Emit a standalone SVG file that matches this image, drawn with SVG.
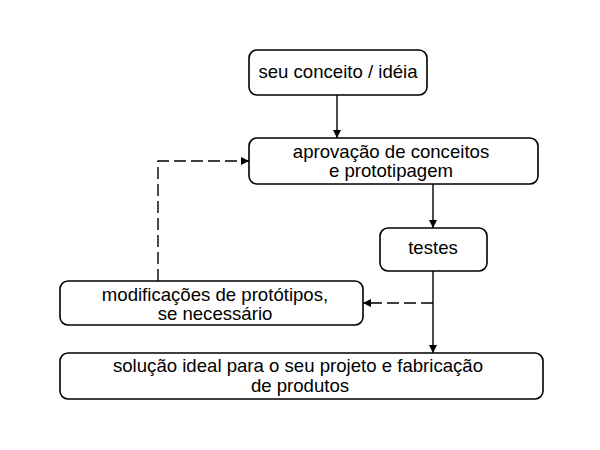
<svg xmlns="http://www.w3.org/2000/svg" width="600" height="450" viewBox="0 0 600 450">
<defs>
<style>
.box{fill:#fff;stroke:#000;stroke-width:1.6}
.t{font-family:"Liberation Sans",Arial,sans-serif;font-size:18.6px;fill:#000;text-anchor:middle}
.c{fill:none;stroke:#000;stroke-width:1.4}
.d{stroke-dasharray:12,5}
</style>
<marker id="ah" viewBox="0 0 10 10" refX="10" refY="5" markerWidth="8" markerHeight="8" markerUnits="userSpaceOnUse" orient="auto">
<path d="M0,0 L10,5 L0,10 z" fill="#000"/>
</marker>
</defs>
<rect width="600" height="450" fill="#fff"/>
<g id="connectors">
<path class="c" d="M337,95 V138" marker-end="url(#ah)"/>
<path class="c" d="M433,184 V228" marker-end="url(#ah)"/>
<path class="c" d="M433,271 V353" marker-end="url(#ah)"/>
<path class="c d" d="M433,303 H363" marker-end="url(#ah)"/>
<path class="c d" d="M158,281 V161 H249" marker-end="url(#ah)"/>
</g>
<g id="n1">
<rect class="box" x="249" y="50" width="178" height="45" rx="8"/>
<text class="t" x="338" y="78">seu conceito / idéia</text>
</g>
<g id="n2">
<rect class="box" x="249" y="138" width="289" height="46" rx="8"/>
<text class="t" x="391" y="158">aprovação de conceitos</text>
<text class="t" x="391" y="177">e prototipagem</text>
</g>
<g id="n3">
<rect class="box" x="380" y="228" width="107" height="43" rx="8"/>
<text class="t" x="433" y="254">testes</text>
</g>
<g id="n4">
<rect class="box" x="60" y="281" width="303" height="44" rx="8"/>
<text class="t" x="215" y="301">modificações de protótipos,</text>
<text class="t" x="215" y="320">se necessário</text>
</g>
<g id="n5">
<rect class="box" x="60" y="353" width="483" height="46" rx="8"/>
<text class="t" x="298" y="372">solução ideal para o seu projeto e fabricação</text>
<text class="t" x="300" y="392">de produtos</text>
</g>
</svg>
